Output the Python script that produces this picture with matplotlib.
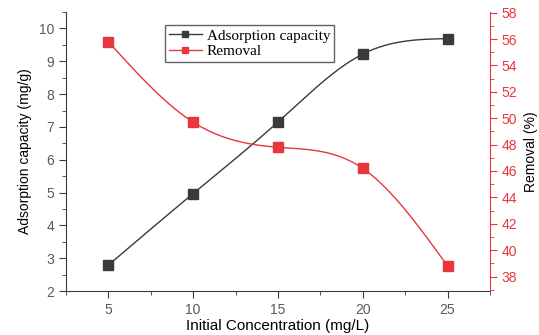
import numpy as np
import matplotlib
matplotlib.use('Agg')
import matplotlib.pyplot as plt
from matplotlib.ticker import MultipleLocator
from matplotlib.lines import Line2D

conc = [5, 10, 15, 20, 25]
capacity = [2.79, 4.97, 7.15, 9.22, 9.69]
removal = [55.8, 49.7, 47.8, 46.2, 38.8]


def natural_spline(x, y, n=200):
    # natural cubic spline through the points (line style like the original)
    x = np.asarray(x, float); y = np.asarray(y, float)
    k = len(x); h = np.diff(x)
    A = np.zeros((k, k)); b = np.zeros(k)
    A[0, 0] = A[-1, -1] = 1
    for i in range(1, k - 1):
        A[i, i - 1] = h[i - 1]; A[i, i] = 2 * (h[i - 1] + h[i]); A[i, i + 1] = h[i]
        b[i] = 6 * ((y[i + 1] - y[i]) / h[i] - (y[i] - y[i - 1]) / h[i - 1])
    M = np.linalg.solve(A, b)
    xs = np.linspace(x[0], x[-1], n)
    idx = np.clip(np.searchsorted(x, xs) - 1, 0, k - 2)
    x0, x1 = x[idx], x[idx + 1]; hh = x1 - x0
    ys = (M[idx] * (x1 - xs) ** 3 + M[idx + 1] * (xs - x0) ** 3) / (6 * hh) \
        + (y[idx] / hh - M[idx] * hh / 6) * (x1 - xs) \
        + (y[idx + 1] / hh - M[idx + 1] * hh / 6) * (xs - x0)
    return xs, ys


plt.rcParams['font.family'] = ['Liberation Sans', 'DejaVu Sans']
black = '#3a3a3a'
red = '#e8363c'
gray = '#5a5a5a'

fig = plt.figure(figsize=(5.39, 3.35), dpi=100)
ax = fig.add_axes([0.1224, 0.1313, 0.7866, 0.8327])
ax2 = ax.twinx()

xs, ys = natural_spline(conc, capacity)
ax.plot(xs, ys, color=black, lw=1)
ax.plot(conc, capacity, 's', color=black, ms=6.5)
xs, ys = natural_spline(conc, removal)
ax2.plot(xs, ys, color=red, lw=1)
ax2.plot(conc, removal, 's', color=red, ms=6.5)

ax.set_xlim(2.5, 27.5)
ax.set_ylim(2, 10.5)
ax2.set_ylim(36.9, 58.05)

ax.xaxis.set_major_locator(MultipleLocator(5))
ax.xaxis.set_minor_locator(MultipleLocator(2.5))
ax.yaxis.set_major_locator(MultipleLocator(1))
ax.yaxis.set_minor_locator(MultipleLocator(0.5))
ax2.yaxis.set_major_locator(MultipleLocator(2))
ax2.yaxis.set_minor_locator(MultipleLocator(1))

for a in (ax, ax2):
    a.spines['top'].set_visible(False)
ax.spines['left'].set_color(black)
ax.spines['bottom'].set_color(black)
ax.spines['right'].set_visible(False)
ax2.spines['left'].set_visible(False)
ax2.spines['bottom'].set_visible(False)
ax2.spines['right'].set_color(red)

ax.tick_params(axis='both', which='major', direction='out', length=5, color=black,
               labelsize=10, labelcolor=gray)
ax.tick_params(axis='both', which='minor', direction='out', length=3, color=black)
ax2.tick_params(axis='y', which='major', direction='out', length=5, color=red,
                labelsize=10, labelcolor=red)
ax2.tick_params(axis='y', which='minor', direction='out', length=3, color=red)

ax.set_xlabel('Initial Concentration (mg/L)', fontsize=11, labelpad=1.5)
ax.set_ylabel('Adsorption capacity (mg/g)', fontsize=10, labelpad=5)
ax2.set_ylabel('Removal (%)', fontsize=10, labelpad=5)

handles = [Line2D([], [], color=black, marker='s', ms=4, lw=1),
           Line2D([], [], color=red, marker='s', ms=4, lw=1)]
leg = ax.legend(handles, ['Adsorption capacity', 'Removal'], loc='upper left',
                bbox_to_anchor=(0.215, 0.98), frameon=True, fancybox=False,
                prop={'family': 'Liberation Serif', 'size': 11},
                handlelength=2.2, handletextpad=0.3, borderpad=0.25, labelspacing=0.1)
leg.get_frame().set_edgecolor(black)
leg.get_frame().set_linewidth(1)

fig.savefig('out.png', dpi=100)
